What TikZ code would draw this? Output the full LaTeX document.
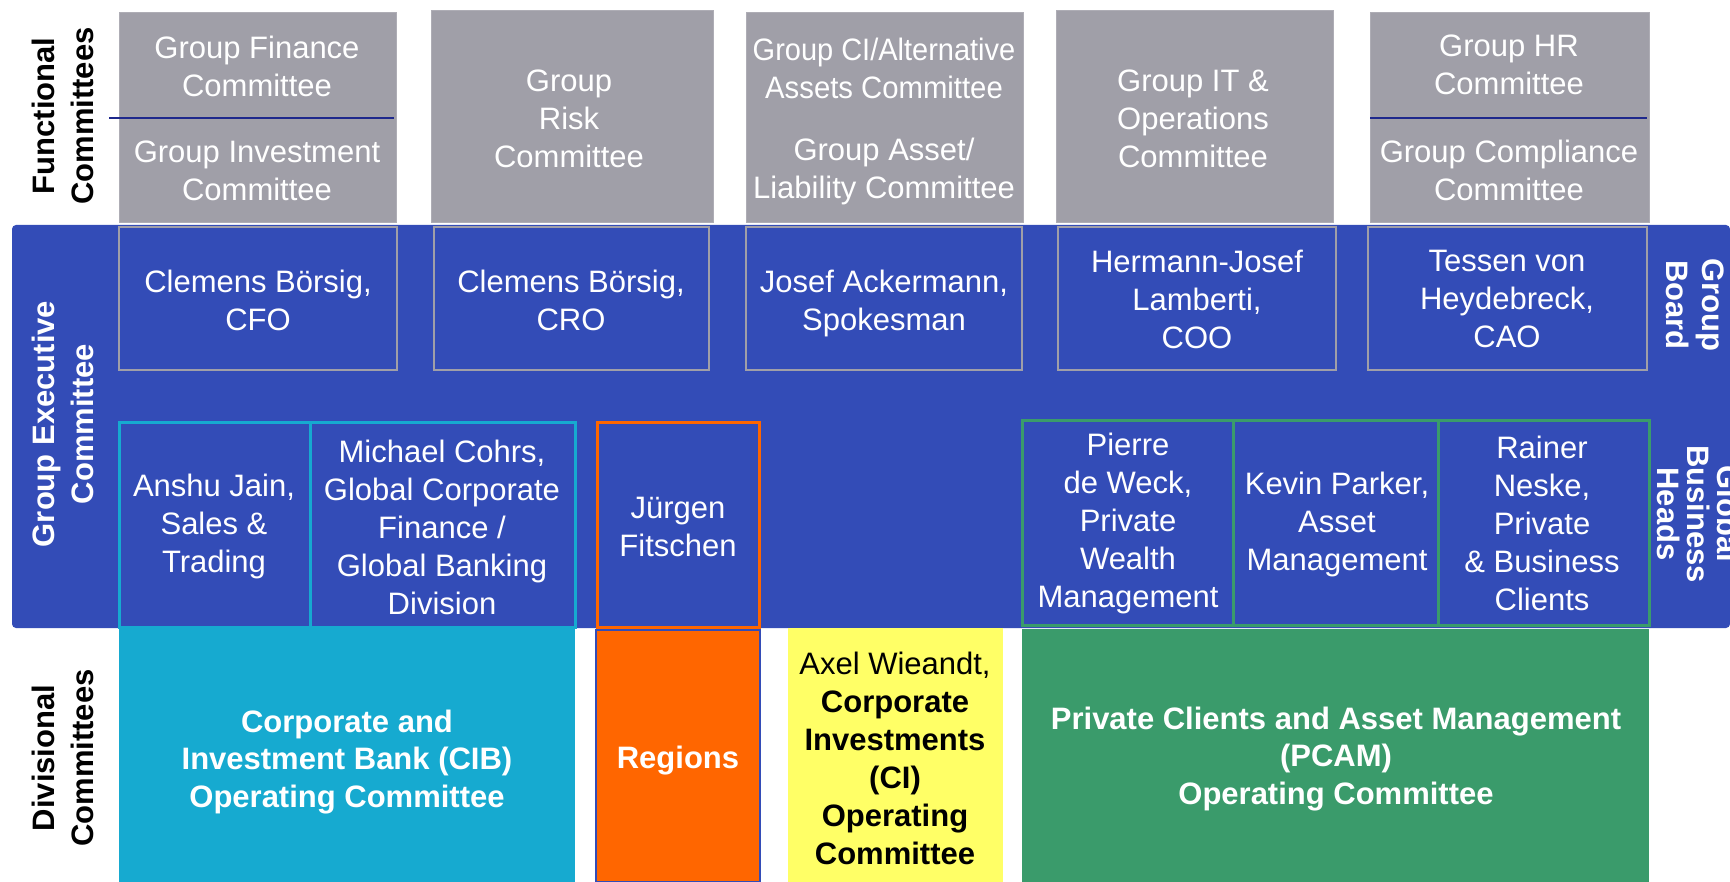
\documentclass[tikz,border=0pt]{standalone}
\usepackage{fontspec}
\setmainfont{Liberation Sans}
\definecolor{gebl}{RGB}{51,76,183}
\definecolor{fgray}{RGB}{160,159,168}
\definecolor{cibc}{RGB}{22,170,208}
\definecolor{orng}{RGB}{255,102,0}
\definecolor{ylw}{RGB}{255,255,102}
\definecolor{grn}{RGB}{58,155,107}
\definecolor{navy}{RGB}{30,40,140}
\begin{document}
\begin{tikzpicture}[x=1pt,y=-1pt,
  box/.style 2 args={minimum width=#1pt, minimum height=#2pt, anchor=north west, inner sep=0pt, outer sep=0pt},
  graybox/.style={fill=fgray, draw=fgray!85!white, line width=1pt},
  topbox/.style={fill=gebl, draw=fgray, line width=1.5pt},
  cibbox/.style={fill=gebl, draw=cibc, line width=3pt},
  regbox/.style={fill=gebl, draw=orng, line width=3pt},
  pcambox/.style={fill=gebl, draw=grn, line width=3pt},
  txt/.style={text=white, align=center, inner sep=0pt, font=\fontsize{31}{38}\selectfont},
  btxt/.style={text=white, align=center, inner sep=0pt, font=\fontsize{31}{37.5}\selectfont\bfseries},
  lbl/.style={align=center, inner sep=0pt, font=\fontsize{31}{39}\selectfont\bfseries},
  divline/.style={draw=navy, line width=1.5pt}]
\useasboundingbox (0,0) rectangle (1730,882);

% functional committees (gray)
\node[graybox, box={277}{210}] (g1) at (119,13) {};
\node[graybox, box={282}{212}] (g2) at (431,11) {};
\node[graybox, box={277}{210}] (g3) at (746,13) {};
\node[graybox, box={277}{212}] (g4) at (1056,11) {};
\node[graybox, box={279}{210}] (g5) at (1370,13) {};
\coordinate (d1a) at (109,118); \coordinate (d1b) at (394,118);
\coordinate (d5a) at (1370,118); \coordinate (d5b) at (1647,118);
\draw[divline] (d1a) -- (d1b);
\draw[divline] (d5a) -- (d5b);
\node[txt] (g1t1) at (257,66) {Group Finance\\Committee};
\node[txt] (g1t2) at (257,171) {Group Investment\\Committee};
\node[txt] (g2t) at (569,119) {Group\\Risk\\Committee};
\node[txt] (g3t1) at (884,68) {\scalebox{0.935}[1]{Group CI/Alternative}\\\scalebox{0.945}[1]{Assets Committee}};
\node[txt] (g3t2) at (884,171) {Group Asset/\\Liability Committee};
\node[txt] (g4t) at (1193,119) {Group IT \&\\Operations\\Committee};
\node[txt] (g5t1) at (1509,65) {Group HR\\Committee};
\node[txt] (g5t2) at (1509,170) {Group Compliance\\Committee};

% group executive committee band
\node[fill=gebl, rounded corners=4pt, box={1718}{403}] (band) at (12,225) {};

% group board
\node[topbox, box={278}{143}] (b1) at (119,227) {};
\node[topbox, box={275}{143}] (b2) at (434,227) {};
\node[topbox, box={276}{143}] (b3) at (746,227) {};
\node[topbox, box={278}{143}] (b4) at (1058,227) {};
\node[topbox, box={279}{143}] (b5) at (1368,227) {};
\node[txt] (b1t) at (258,300) {Clemens Börsig,\\CFO};
\node[txt] (b2t) at (571,300) {Clemens Börsig,\\CRO};
\node[txt] (b3t) at (884,303) {Josef Ackermann,\\Spokesman};
\node[txt] (b4t) at (1197,299) {Hermann-Josef\\Lamberti,\\COO};
\node[txt] (b5t) at (1507,299) {Tessen von\\Heydebreck,\\CAO};

% global business heads
\node[cibbox, box={191}{204}] (h1) at (119,423) {};
\node[cibbox, box={265}{204}] (h2) at (310,423) {};
\node[regbox, box={162}{204}] (h3) at (597,423) {};
\node[pcambox, box={211}{204}] (h4) at (1022,421) {};
\node[pcambox, box={205}{204}] (h5) at (1233,421) {};
\node[pcambox, box={211}{204}] (h6) at (1438,421) {};
\node[txt] (h1t) at (214,526) {Anshu Jain,\\Sales \&\\Trading};
\node[txt] (h2t) at (442,527) {Michael Cohrs,\\Global Corporate\\Finance /\\Global Banking\\Division};
\node[txt] (h3t) at (678,527) {Jürgen\\Fitschen};
\node[txt] (h4t) at (1128,523) {Pierre\\de Weck,\\Private\\Wealth\\Management};
\node[txt] (h5t) at (1337,524) {Kevin Parker,\\Asset\\Management};
\node[txt] (h6t) at (1542,523) {Rainer\\Neske,\\Private\\\& Business\\Clients};

% divisional committees
\node[fill=cibc, box={456}{253}] (c1) at (119,629) {};
\node[fill=orng, draw=gebl, line width=1.5pt, box={164}{252}] (c2) at (596,630) {};
\node[fill=ylw, box={215}{254}] (c3) at (788,628) {};
\node[fill=grn, box={627}{253}] (c4) at (1022,629) {};
\node[btxt] (c1t) at (347,762) {Corporate and\\Investment Bank (CIB)\\Operating Committee};
\node[btxt] (c2t) at (678,761) {Regions};
\node[txt, text=black] (c3t) at (895,758) {Axel Wieandt,\\\textbf{Corporate}\\\textbf{Investments}\\\textbf{(CI)}\\\textbf{Operating}\\\textbf{Committee}};
\node[btxt] (c4t) at (1336,759) {Private Clients and Asset Management\\(PCAM)\\Operating Committee};

% side labels
\node[lbl, rotate=90] (fc) at (63,116) {Functional\\Committees};
\node[lbl, rotate=90, text=white] (gec) at (63,424) {Group Executive\\Committee};
\node[lbl, rotate=90] (dc) at (63,758) {Divisional\\Committees};
\node[lbl, rotate=-90, text=white, font=\fontsize{31}{36}\selectfont\bfseries] (gb) at (1695,305) {Group\\Board};
\node[lbl, rotate=-90, text=white, font=\fontsize{31}{30}\selectfont\bfseries] (gbh) at (1699,514) {Global\\Business\\Heads};
\end{tikzpicture}
\end{document}
